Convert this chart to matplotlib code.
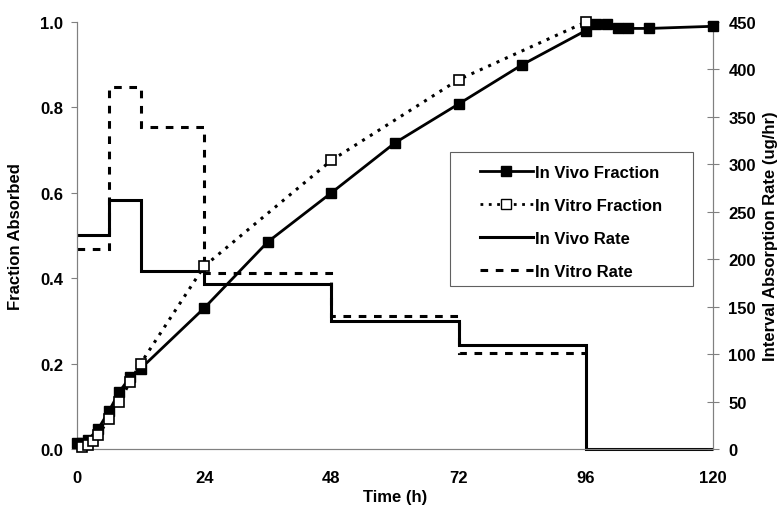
import matplotlib
matplotlib.use("Agg")
import matplotlib.pyplot as plt
from matplotlib.lines import Line2D
from matplotlib.patches import Rectangle

plt.rcParams["font.family"] = ["Liberation Sans", "DejaVu Sans"]
plt.rcParams["font.weight"] = "bold"

# fraction absorbed (left axis)
vivo_t = [0, 1, 2, 4, 6, 8, 10, 12, 24, 36, 48, 60, 72, 84, 96, 98, 100, 102, 104, 108, 120]
vivo_frac = [0.015, 0.015, 0.02, 0.047, 0.088, 0.134, 0.168, 0.188, 0.33, 0.485, 0.60,
             0.717, 0.808, 0.90, 0.98, 0.995, 0.995, 0.985, 0.985, 0.985, 0.99]
vitro_t = [1, 2, 3, 4, 6, 8, 10, 12, 24, 48, 72, 96]
vitro_frac = [0.005, 0.01, 0.018, 0.032, 0.07, 0.11, 0.157, 0.2, 0.428, 0.676, 0.865, 1.0]

# interval absorption rate (right axis), step intervals
vivo_edges = [0, 6, 12, 24, 48, 72, 96, 120]
vivo_rate = [226, 262, 188, 174, 135, 110, 0]
vitro_edges = [0, 6, 12, 24, 48, 72, 96]
vitro_rate = [211, 382, 339, 186, 140, 101]

x_ticks = [0, 24, 48, 72, 96, 120]

fig = plt.figure(figsize=(7.83, 5.06), dpi=100)
ax = fig.add_axes([0.0983, 0.1107, 0.8123, 0.8438])
ax2 = ax.twinx()

ax.plot(vivo_t, vivo_frac, color="black", lw=2, marker="s", ms=7.5,
        mfc="black", mec="black", zorder=4, clip_on=False)
ax.plot(vitro_t, vitro_frac, color="black", lw=2.2, ls=(0, (1, 2)), marker="s", ms=7.5,
        mfc="white", mec="black", mew=1.2, zorder=5, clip_on=False)

ax2.stairs(vivo_rate, vivo_edges, baseline=None, color="black", lw=2.2, clip_on=False)
ax2.stairs(vitro_rate, vitro_edges, baseline=None, color="black", lw=2.2, ls=(0, (2.5, 2.5)))

ax.set_zorder(ax2.get_zorder() + 1)
ax.patch.set_visible(False)

ax.set_xlim(0, 120)
ax.set_ylim(0, 1.0)
ax2.set_ylim(0, 450)
ax.set_xticks(x_ticks)
ax.set_yticks([0, 0.2, 0.4, 0.6, 0.8, 1.0])
ax.set_yticklabels(["0.0", "0.2", "0.4", "0.6", "0.8", "1.0"])
ax2.set_yticks(range(0, 451, 50))

fs = 12
for a in (ax, ax2):
    for s in a.spines.values():
        s.set_color("#808080")
        s.set_linewidth(0.8)
    a.spines["top"].set_visible(False)
ax.tick_params(axis="y", direction="out", length=4, color="#808080", labelsize=fs, pad=6)
ax.tick_params(axis="x", length=0, labelsize=fs, pad=15)
ax2.tick_params(axis="y", direction="inout", length=8, color="#808080", labelsize=fs, pad=7)
for lbl in ax.get_xticklabels() + ax.get_yticklabels() + ax2.get_yticklabels():
    lbl.set_fontweight("bold")

ax.set_xlabel("Time (h)", fontsize=fs, fontweight="bold", labelpad=3)
ax.set_ylabel("Fraction Absorbed", fontsize=fs, fontweight="bold", labelpad=12)
ax2.set_ylabel("Interval Absorption Rate (ug/hr)", fontsize=fs, fontweight="bold", labelpad=5)

# legend: entries without frame, box drawn separately
box = Rectangle((0.5865, 0.3817), 0.9686 - 0.5865, 0.6956 - 0.3817, transform=ax.transAxes,
                facecolor="white", edgecolor="#606060", lw=0.8, zorder=6)
ax.add_patch(box)
handles = [
    Line2D([], [], color="black", lw=2, marker="s", ms=7.5, mfc="black"),
    Line2D([], [], color="black", lw=2, ls=(0, (1, 2)), marker="s", ms=7.5, mfc="white"),
    Line2D([], [], color="black", lw=2.2),
    Line2D([], [], color="black", lw=2.2, ls=(0, (2.5, 2.5))),
]
labels = ["In Vivo Fraction", "In Vitro Fraction", "In Vivo Rate", "In Vitro Rate"]
leg = ax.legend(handles, labels, loc="upper left", bbox_to_anchor=(0.633, 0.665),
                fontsize=fs, frameon=False, handlelength=3.2, handletextpad=0.15,
                labelspacing=1.07, borderpad=0, borderaxespad=0)
leg.set_zorder(7)
for t in leg.get_texts():
    t.set_fontweight("bold")

fig.savefig("out.png", dpi=100)
